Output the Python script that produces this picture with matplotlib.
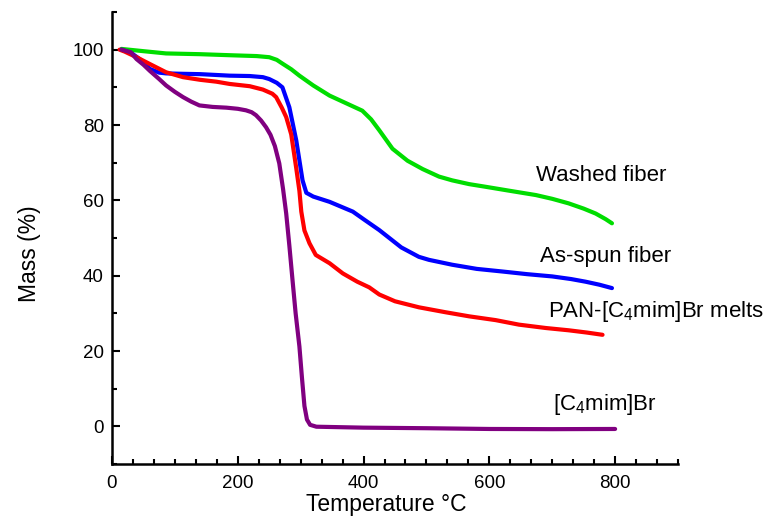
import matplotlib
matplotlib.use("Agg")
import matplotlib.pyplot as plt
from matplotlib.ticker import MultipleLocator

plt.rcParams['font.family'] = ['Liberation Sans', 'DejaVu Sans']
plt.rcParams['mathtext.fontset'] = 'custom'
plt.rcParams['mathtext.rm'] = 'Liberation Sans'

# values (temperature in degC, mass in %)
washed_t = [15, 50, 86, 140, 192, 230, 250, 262, 271, 285, 298, 320, 346, 372,
            398, 412, 425, 446, 470, 494, 520, 541, 568, 594, 630, 674, 700,
            726, 750, 769, 785, 795]
washed_m = [100.2, 99.6, 99.0, 98.8, 98.5, 98.3, 98.0, 97.3, 96.3, 94.8, 93.1,
            90.5, 87.8, 85.8, 83.8, 81.5, 78.6, 73.7, 70.5, 68.3, 66.3, 65.3,
            64.3, 63.6, 62.6, 61.4, 60.4, 59.2, 57.8, 56.5, 55.0, 53.9]

spun_t = [15, 30, 44, 60, 75, 86, 110, 140, 187, 219, 240, 250, 262, 271, 282,
          293, 303, 309, 320, 346, 383, 400, 425, 460, 488, 504, 541, 580, 621,
          660, 700, 730, 753, 775, 795]
spun_m = [100.0, 99.2, 97.5, 94.9, 93.9, 93.7, 93.6, 93.5, 93.1, 93.0, 92.7,
          92.2, 91.2, 90.0, 84.7, 75.9, 65.3, 62.0, 61.0, 59.6, 57.0, 55.0, 52.1,
          47.5, 45.0, 44.2, 42.9, 41.8, 41.1, 40.4, 39.8, 39.1, 38.4, 37.6, 36.7]

melt_t = [12, 20, 39, 60, 86, 113, 140, 166, 187, 219, 240, 255, 261, 270, 277,
          285, 293, 298, 301, 306, 314, 324, 346, 367, 390, 409, 425, 450, 488,
          530, 568, 610, 647, 690, 726, 755, 780]
melt_m = [100.0, 99.5, 98.0, 96.2, 94.0, 92.7, 92.0, 91.5, 90.9, 90.3, 89.4,
          88.3, 87.4, 84.6, 82.1, 77.5, 68.5, 62.5, 57.0, 52.0, 48.6, 45.5, 43.3,
          40.6, 38.4, 36.9, 35.0, 33.2, 31.6, 30.3, 29.2, 28.2, 27.0, 26.1, 25.5,
          24.9, 24.3]

il_t = [15, 30, 39, 50, 60, 75, 86, 100, 113, 126, 139, 160, 182, 200, 213,
        222, 229, 237, 245, 252, 259, 266, 272, 277, 282, 287, 292, 298, 302,
        306, 310, 315, 325, 400, 500, 600, 700, 800]
il_m = [100.0, 99.3, 97.5, 96.0, 94.4, 92.2, 90.5, 88.8, 87.4, 86.2, 85.2, 84.8,
        84.6, 84.3, 83.9, 83.4, 82.6, 81.2, 79.4, 77.4, 74.4, 69.8, 63.0, 56.5,
        48.0, 38.9, 30.0, 21.2, 13.0, 5.4, 1.8, 0.4, -0.1, -0.35, -0.5, -0.7,
        -0.75, -0.7]

series = [
    (washed_t, washed_m, '#00dd00'),
    (spun_t, spun_m, '#0000ff'),
    (melt_t, melt_m, '#ff0000'),
    (il_t, il_m, '#800080'),
]

labels = ['Washed fiber', 'As-spun fiber',
          r'PAN-[C$_\mathregular{4}$mim]Br melts', r'[C$_\mathregular{4}$mim]Br']
label_x = [674, 680, 693, 701]
label_y = [66.7, 45.0, 30.4, 5.8]

fig = plt.figure(figsize=(7.8, 5.19), dpi=100)
ax = fig.add_axes([112 / 780, 55 / 519, 566 / 780, 452 / 519])

for t, m, c in series:
    ax.plot(t, m, color=c, lw=3, solid_capstyle='round', solid_joinstyle='round')

for lab, lx, ly in zip(labels, label_x, label_y):
    ax.text(lx, ly, lab, fontsize=16, va='center', ha='left')

ax.set_xlim(0, 900)
ax.set_ylim(-10, 110)
ax.set_xticks([0, 200, 400, 600, 800])
ax.xaxis.set_minor_locator(MultipleLocator(200 / 6))
ax.yaxis.set_minor_locator(MultipleLocator(10))
ax.set_yticks([0, 20, 40, 60, 80, 100])

for side in ['top', 'right']:
    ax.spines[side].set_visible(False)
for side in ['left', 'bottom']:
    ax.spines[side].set_linewidth(1.8)

ax.tick_params(which='both', direction='in', width=1.5, labelsize=13.5)
ax.tick_params(which='major', length=6)
ax.tick_params(which='minor', length=3.6)
ax.tick_params(axis='x', pad=8)
ax.tick_params(axis='y', pad=6)

ax.set_xlabel('Temperature °C', fontsize=16.5)
ax.set_ylabel('Mass (%)', fontsize=16.5)
ax.xaxis.set_label_coords(0.484, -0.065)
ax.yaxis.set_label_coords(-0.125, 0.465)

fig.savefig('out.png', dpi=100)
